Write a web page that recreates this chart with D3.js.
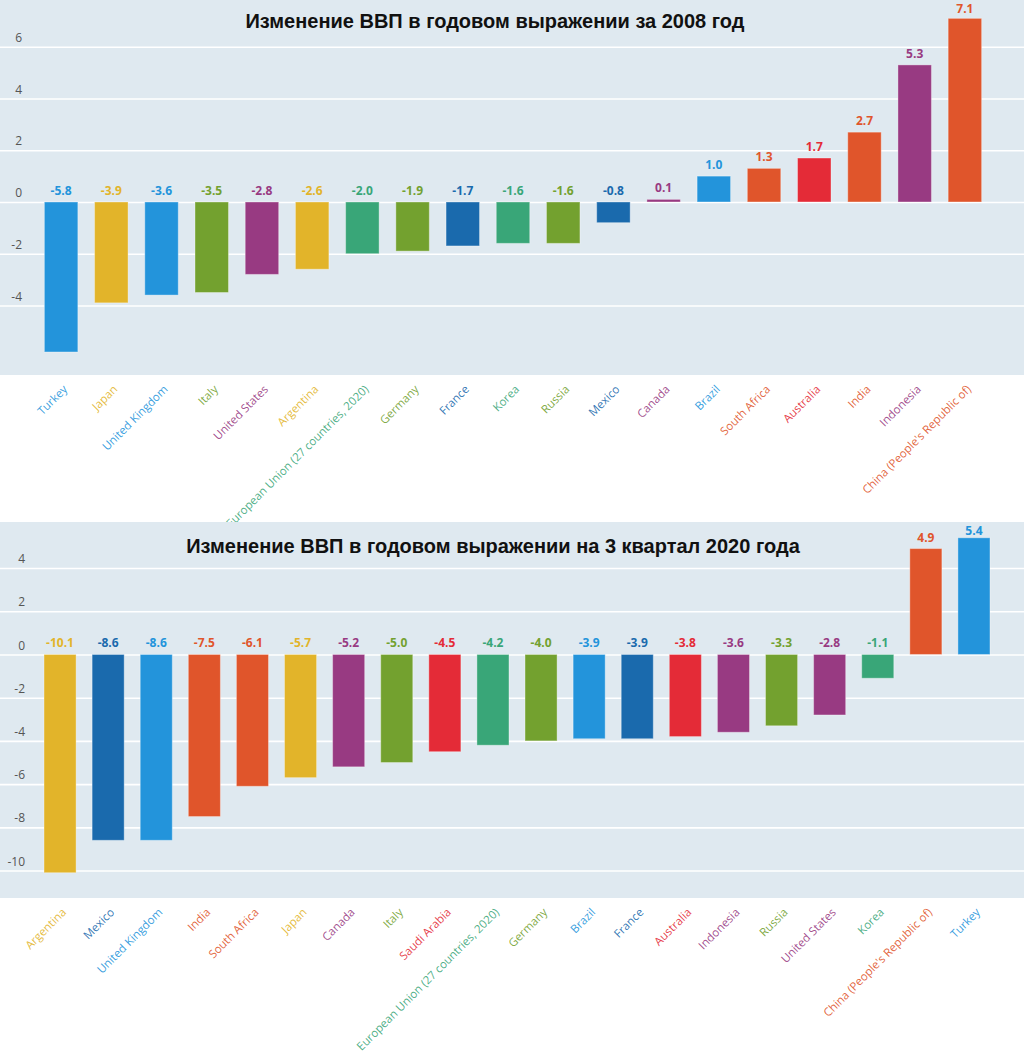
<!DOCTYPE html>
<html><head><meta charset="utf-8">
<script src="https://cdn.jsdelivr.net/npm/d3@7"></script>
<style>
html,body{margin:0;padding:0;background:#fff;}
svg{display:block;}
</style></head>
<body>
<svg id="chart" width="1024" height="1052"></svg>
<script>
// ---- Data ----
const title2008 = "Изменение ВВП в годовом выражении за 2008 год";
const categories2008 = ["Turkey","Japan","United Kingdom","Italy","United States","Argentina","European Union (27 countries, 2020)","Germany","France","Korea","Russia","Mexico","Canada","Brazil","South Africa","Australia","India","Indonesia","China (People's Republic of)"];
const values2008 = [-5.8,-3.9,-3.6,-3.5,-2.8,-2.6,-2.0,-1.9,-1.7,-1.6,-1.6,-0.8,0.1,1.0,1.3,1.7,2.7,5.3,7.1];
const ticks2008 = [-4,-2,0,2,4,6];

const title2020 = "Изменение ВВП в годовом выражении на 3 квартал 2020 года";
const categories2020 = ["Argentina","Mexico","United Kingdom","India","South Africa","Japan","Canada","Italy","Saudi Arabia","European Union (27 countries, 2020)","Germany","Brazil","France","Australia","Indonesia","Russia","United States","Korea","China (People's Republic of)","Turkey"];
const values2020 = [-10.1,-8.6,-8.6,-7.5,-6.1,-5.7,-5.2,-5.0,-4.5,-4.2,-4.0,-3.9,-3.9,-3.8,-3.6,-3.3,-2.8,-1.1,4.9,5.4];
const ticks2020 = [-10,-8,-6,-4,-2,0,2,4];

// country -> colour group
const countryGroup = {
  "Turkey":"blue","United Kingdom":"blue","Brazil":"blue",
  "Japan":"yellow","Argentina":"yellow",
  "Italy":"olive","Germany":"olive","Russia":"olive",
  "United States":"purple","Canada":"purple","Indonesia":"purple",
  "European Union (27 countries, 2020)":"teal","Korea":"teal",
  "France":"navy","Mexico":"navy",
  "South Africa":"orange","India":"orange","China (People's Republic of)":"orange",
  "Australia":"red","Saudi Arabia":"red"
};
const palette = {blue:"#2394db",yellow:"#e2b42a",olive:"#73a12f",purple:"#983a82",teal:"#39a678",navy:"#1a6aad",orange:"#e0552b",red:"#e42b37"};

const svg = d3.select("#chart");
const BG = "#dfe9f0";
const W = 1024;

function drawChart(cfg){
  const g = svg.append("g");
  g.append("rect").attr("x",0).attr("y",cfg.top).attr("width",W).attr("height",cfg.bottom-cfg.top).attr("fill",BG);
  const y = d3.scaleLinear().domain(cfg.domain).range([cfg.bottom,cfg.top]);
  const x = d3.scaleBand().domain(cfg.cats).range(cfg.xr).paddingInner(1/3).paddingOuter(1/6);

  const axis = d3.axisLeft(y).tickValues(cfg.ticks).tickSize(W).tickFormat(d3.format("d"));
  const ag = g.append("g").attr("transform",`translate(${W},0)`).call(axis);
  ag.select(".domain").remove();
  ag.selectAll(".tick line").attr("stroke","#ffffff").attr("stroke-width",1.6);
  ag.selectAll(".tick text").attr("x",-(W-cfg.tickX)).attr("dy","-0.45em").attr("text-anchor","end")
    .attr("fill","#555").style("font-family","'Open Sans'").style("font-size","12px")
    .text(d=>String(d).replace("−","-"));

  g.append("text").attr("x",cfg.titleX).attr("y",cfg.titleY).attr("text-anchor","middle")
    .style("font-family","'Liberation Sans', Arial, sans-serif").style("font-weight","bold").style("font-size","20px")
    .attr("fill","#111").text(cfg.title);

  const col = d => palette[countryGroup[d]];
  g.selectAll("rect.bar").data(cfg.cats).join("rect").attr("class","bar")
    .attr("x",d=>x(d)).attr("width",x.bandwidth())
    .attr("y",(d,i)=>Math.min(y(0),y(cfg.vals[i])))
    .attr("height",(d,i)=>Math.abs(y(cfg.vals[i])-y(0)))
    .attr("fill",col).attr("stroke","rgba(255,255,255,0.35)").attr("stroke-width",1);

  g.selectAll("text.val").data(cfg.cats).join("text").attr("class","val")
    .attr("x",d=>x(d)+x.bandwidth()/2)
    .attr("y",(d,i)=>Math.max(cfg.top+13, Math.min(y(0),y(cfg.vals[i]))-7))
    .attr("text-anchor","middle").attr("fill",col)
    .style("font-family","'Open Sans'").style("font-weight","bold").style("font-size","12px")
    .text((d,i)=>cfg.vals[i].toFixed(1));

  g.selectAll("text.cat").data(cfg.cats).join("text").attr("class","cat")
    .attr("transform",d=>`translate(${x(d)+x.bandwidth()/2+7},${cfg.bottom+15}) rotate(-45)`)
    .attr("text-anchor","end").attr("fill",col).attr("fill-opacity",0.9)
    .style("font-family","'Open Sans'").style("font-size","11.5px")
    .text(d=>d);
}

drawChart({title:title2008,cats:categories2008,vals:values2008,ticks:ticks2008,
  top:0,bottom:375,domain:[-6.69,7.81],xr:[36,990],tickX:22,titleX:495,titleY:28});
drawChart({title:title2020,cats:categories2020,vals:values2020,ticks:ticks2020,
  top:522,bottom:898,domain:[-11.27,6.13],xr:[36,998],tickX:25,titleX:493,titleY:553});
</script>
</body></html>
